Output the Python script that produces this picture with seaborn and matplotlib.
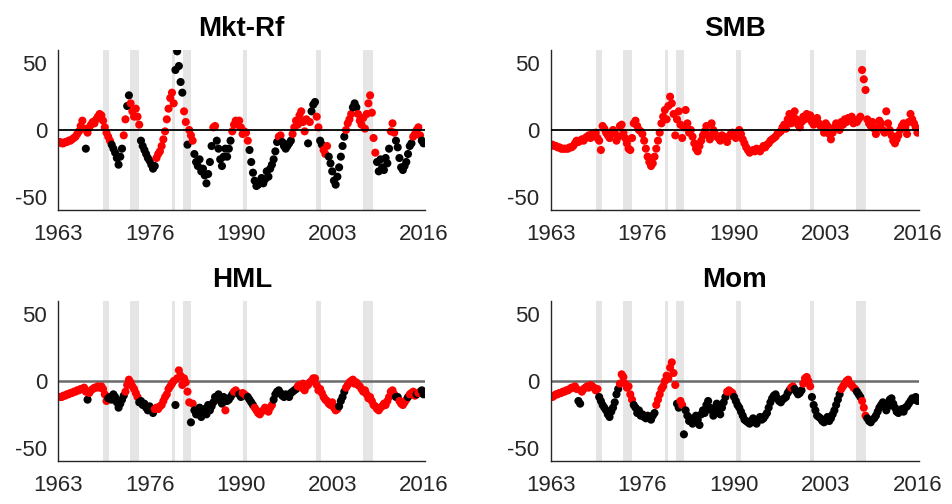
import numpy as np
import pandas as pd
import matplotlib
matplotlib.use("Agg")
import matplotlib.pyplot as plt
import seaborn as sns

# Quarterly observations, 1963Q1 .. 2015Q4 (one row per year, four quarters)
mkt_vals = [
    -9, -10, -10, -9,   -9, -8, -8, -7,     -6, -5, -3, -1,     3, 7, 1, -14,
    -2, 2, 4, 6,        5, 8, 10, 12,       11, 7, 2, -2,       -5, -8, -11, -14,
    -17, -21, -26, -20, -14, -4, 8, 18,     26, 20, 14, 10,     16, 10, 4, -8,
    -12, -15, -18, -21, -23, -26, -29, -27, -21, -18, -16, -12, -7, -1, 8, 16,
    24, 28, 20, 45,     59, 48, 36, 28,     14, 6, -11, 0,      -4, -8, -18, -24,
    -27, -22, -31, -29, -34, -40, -33, -24, -12, 2, 3, -8,      -14, -22, -27, -20,
    -14, -20, -14, -8,  -1, 4, 7, 4,        7, 2, -3, -1,       -2, -8, -15, -24,
    -32, -38, -42, -41, -39, -36, -40, -37, -31, -35, -29, -26, -22, -16, -9, -5,
    -4, -9, -12, -14,   -12, -10, -8, -3,   2, 7, 4, 11,        14, 6, -1, 8,
    -10, 6, 14, 19,     21, 10, 2, -8,      -11, -15, -18, -12, -20, -25, -31, -38,
    -41, -35, -28, -20, -12, -5, 0, 5,      8, 12, 17, 20,      17, 12, 7, 4,
    9, 1, 12, 20,       26, 13, -6, -17,    -24, -31, -22, -28, -30, -21, -25, -14,
    -1, 5, -2, -8,      -13, -21, -28, -30, -27, -24, -18, -12, -10, -5, -3, 0,
    2, -4, -8, -10,
]
mkt_sig = ("rrrr rrrr rrrr rrrk rrrr rrrr rrrr rrkk kkkk krrk krrr rrrk kkkk kkkk "
           "rrrr rrrr rrrk kkkk rrkr rrkk kkkk kkkk krrk kkkk kkkk rrrr rrrr rrkk "
           "kkkk kkkk kkkk kkkr rkkk kkkr rrrr rrrr krkk krrk krrr kkkk kkkk kkrr "
           "rrkk krrr rrrr rrrr kkkk kkkk rrrk kkkk kkkk krrr rrkk")

smb_vals = [
    -11, -12, -12, -13, -13, -14, -14, -14, -14, -14, -13, -13, -12, -10, -8, -9,
    -8, -7, -8, -6,     -5, -4, -6, -3,     -4, -2, -6, -8,     -15, 3, 1, -2,
    -4, -6, -3, 0,      -2, -8, -5, 3,      4, -2, -6, -10,     -14, -15, -6, 5,
    7, 3, 0, -1,        -3, -8, -14, -20,   -24, -27, -25, -20, -14, -8, -2, 5,
    10, 15, 8, 18,      25, 20, 12, -4,     8, 14, 4, -6,       2, 15, 5, -2,
    0, -5, -10, -14,    -16, -12, -8, -4,   -1, 3, -4, -7,      5, 0, -3, -5,
    -6, -8, -4, -5,     -7, -9, -5, -3,     -2, -4, -6, -3,     0, -3, -7, -10,
    -13, -15, -17, -16, -15, -16, -14, -15, -16, -14, -12, -13, -11, -10, -8, -7,
    -6, -5, -3, -2,     -1, 2, 4, 1,        8, 12, 5, 10,       14, 8, 4, 2,
    6, 10, 8, 12,       9, 11, 6, 4,        7, 9, 5, 3,         2, -2, 5, 3,
    -3, -7, -2, 2,      5, 3, 0, 6,         4, 8, 6, 9,         8, 10, 5, 7,
    6, 8, 10, 45,       38, 30, 8, 5,       3, 6, 1, -3,        2, 7, 5, 0,
    -2, 14, 5, 0,       -4, -8, -10, -7,    -4, 0, 3, 5,        2, -3, 6, 12,
    8, 5, 2, -2,
]
smb_sig = "r" * 212

hml_vals = [
    -12, -12, -11, -11, -10, -10, -9, -9,   -8, -8, -7, -7,     -6, -6, -5, -8,
    -14, -9, -7, -6,    -5, -5, -4, -5,     -4, -6, -10, -15,   -13, -12, -14, -10,
    -12, -16, -20, -17, -14, -11, -8, -3,   1, -1, -4, -6,      -9, -12, -16, -15,
    -18, -17, -20, -22, -19, -22, -24, -21, -20, -21, -19, -18, -15, -12, -10, -6,
    -4, -2, 0, -18,     2, 8, 4, -3,        2, -1, -8, -16,     -31, -17, -22, -25,
    -25, -20, -27, -23, -21, -25, -18, -22, -19, -16, -12, -14, -10, -14, -17, -12,
    -22, -15, -14, -12, -10, -8, -7, -9,    -10, -12, -9, -10,  -11, -12, -14, -16,
    -18, -20, -22, -24, -25, -23, -22, -20, -21, -23, -20, -18, -14, -10, -8, -7,
    -9, -11, -12, -10,  -11, -12, -9, -8,   -7, -6, -4, -3,     -5, -2, -7, -4,
    -3, -1, 0, 2,       2, -3, -7, -6,      -9, -12, -14, -15,  -17, -18, -16, -20,
    -22, -21, -19, -15, -12, -8, -5, -3,    -1, 0, 1, -2,       -1, -3, -4, -6,
    -8, -7, -10, -13,   -12, -15, -18, -19, -21, -22, -20, -19, -17, -18, -15, -12,
    -8, -7, -10, -12,   -12, -15, -17, -18, -16, -14, -12, -10, -9, -8, -11, -10,
    -9, -8, -7, -10,
]
hml_sig = ("rrrr rrrr rrrr rrrr krrr rrrr rrrr kkkk kkkk kkrr rrrr rrkk kkkk kkkr "
           "rrrr rrrr rrrk rrrr rrrr krkk kkkk kkkk kkkk kkkk rkkk krrr kkrr rkkk "
           "krrr rrrr rrrr kkkk kkkk kkkk kkrr rrrr rrrr rrrr rrrr rrrr rrkk kkrr "
           "rrrr rrrr rrrr rrrr rrrr rrrr rrrk krrr rrkr rrrk rrkk")

mom_vals = [
    -12, -11, -10, -10, -9, -9, -8, -8,     -7, -7, -6, -5,     -5, -4, -6, -15,
    -17, -8, -6, -5,    -4, -5, -3, -4,     -5, -7, -6, -12,    -15, -18, -20, -22,
    -25, -27, -23, -20, -16, -10, -6, -2,   5, 3, -2, -5,       -4, -10, -14, -18,
    -20, -24, -22, -26, -25, -27, -28, -26, -27, -29, -26, -24, -18, -14, -10, -6,
    -4, 0, 4, 2,        10, 14, 6, -3,      -17, -20, -15, -18, -40, -22, -26, -30,
    -28, -32, -30, -26, -29, -33, -25, -22, -24, -18, -15, -20, -22, -26, -20, -17,
    -22, -25, -20, -16, -12, -8, -7, -8,    -9, -12, -15, -18,  -20, -23, -26, -29,
    -30, -31, -32, -30, -28, -30, -32, -29, -27, -29, -28, -26, -24, -20, -16, -13,
    -11, -10, -13, -15, -16, -14, -13, -12, -9, -7, -5, -4,     -6, -8, -10, -9,
    -7, -2, 2, 3,       0, -4, -12, -18,    -22, -26, -27, -28, -30, -31, -29, -27,
    -30, -28, -25, -22, -18, -14, -10, -6,  -4, -2, 0, 1,       -2, -3, -5, -6,
    -8, -10, -12, -15,  -20, -26, -28, -30, -31, -29, -28, -26, -23, -20, -18, -16,
    -18, -22, -19, -14, -13, -17, -20, -23, -24, -22, -21, -23, -20, -19, -17, -15,
    -13, -14, -12, -15,
]
mom_sig = ("rrrr rrrr rrrr rrrk krrr rrrr rrrk kkkk kkkk kkkr rrrr rrrk kkkk kkkk "
           "kkkk rrrr rrrr rrrr kkrr kkkk kkkk kkkk kkkk kkkk kkkk krrr rkkk kkkk "
           "kkkk kkkk kkkk kkkk kkkk kkkk kkrr kkkk krrr rrkk kkkk kkkk kkkk kkkr "
           "rrrr rrrr kkkr rrkk kkkk kkkk kkkk kkkk kkkk kkkk kkkk")

# Recession periods (shaded)
recessions = [(1969.5, 1970.4), (1973.4, 1974.7), (1979.45, 1979.9), (1981.1, 1982.2),
              (1989.75, 1990.45), (2000.45, 2001.05), (2007.15, 2008.6)]

titles = ["Mkt-Rf", "SMB", "HML", "Mom"]
year_ticks = ["1963", "1976", "1990", "2003", "2016"]
value_ticks = [-50, 0, 50]

periods = pd.period_range("1963Q1", "2015Q4", freq="Q")
dates = periods.year + periods.quarter / 4.0

sns.set_theme(style="white")
plt.rcParams["font.family"] = ["Liberation Sans", "DejaVu Sans"]
plt.rcParams["axes.unicode_minus"] = False

fig = plt.figure(figsize=(9.52, 5.04), dpi=100)
boxes = [
    [0.0612, 0.5833, 0.3855, 0.3175],
    [0.5785, 0.5833, 0.3870, 0.3175],
    [0.0612, 0.0853, 0.3855, 0.3175],
    [0.5785, 0.0853, 0.3870, 0.3175],
]
series = [(mkt_vals, mkt_sig), (smb_vals, smb_sig), (hml_vals, hml_sig), (mom_vals, mom_sig)]
ink = "#262626"

for i, (box, (vals, sig), title) in enumerate(zip(boxes, series, titles)):
    ax = fig.add_axes(box)
    flags = list(sig.replace(" ", ""))
    df = pd.DataFrame({"date": dates, "value": vals, "sig": flags})

    for a, b in recessions:
        ax.axvspan(a, b, color="#e5e5e5", lw=0, zorder=0)

    top_row = i < 2
    ax.axhline(0, color="black" if top_row else "#6a6a6a",
               lw=1.3 if top_row else 1.8, zorder=3 if top_row else 1)

    sns.scatterplot(data=df, x="date", y="value", hue="sig",
                    palette={"r": "#ff0000", "k": "#000000"},
                    s=34, linewidth=0, legend=False, ax=ax, zorder=2)

    ax.set_xlim(1963, 2016.25)
    ax.set_ylim(-60, 60)
    ax.set_xticks(np.linspace(1963, 2016, 5))
    ax.set_xticklabels(year_ticks)
    ax.set_yticks(value_ticks)
    ax.set_xlabel("")
    ax.set_ylabel("")
    ax.set_title(title, fontsize=20, fontweight="bold", pad=10, color="black")

    for side in ("top", "right"):
        ax.spines[side].set_visible(False)
    for side in ("left", "bottom"):
        ax.spines[side].set_color(ink)
        ax.spines[side].set_linewidth(1.0)
    ax.tick_params(axis="both", direction="in", length=4, width=1,
                   color=ink, labelcolor=ink, labelsize=16)
    ax.tick_params(axis="x", pad=10)
    ax.tick_params(axis="y", pad=8)

fig.savefig("out.png", dpi=100, facecolor="white")
